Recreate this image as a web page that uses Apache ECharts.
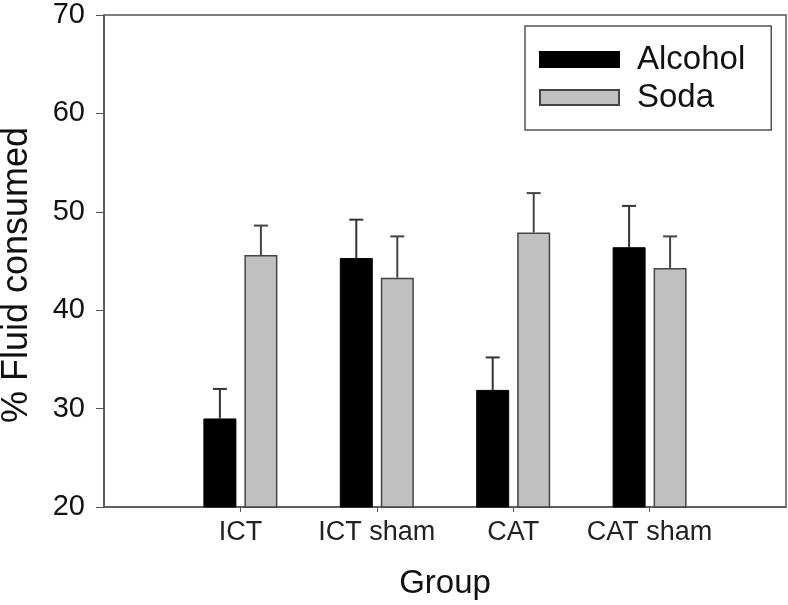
<!DOCTYPE html>
<html>
<head>
<meta charset="utf-8">
<script src="https://cdn.jsdelivr.net/npm/echarts@6/dist/echarts.min.js"></script>
<style>
  html, body { margin: 0; padding: 0; background: #fff; }
  #main { width: 788px; height: 605px; }
</style>
</head>
<body>
<div id="main"></div>
<script>
// groups and values
var groups = ['ICT', 'ICT sham', 'CAT', 'CAT sham'];
var alcohol = [29.0, 45.3, 31.9, 46.4];
var alcoholErr = [3.0, 3.9, 3.3, 4.2];
var soda = [45.6, 43.3, 47.9, 44.3];
var sodaErr = [3.0, 4.2, 4.0, 3.2];
var yTicks = [20, 30, 40, 50, 60, 70];

// axis has an empty slot at each end
var axisCats = [''].concat(groups, ['']);
function pad(arr) { return [null].concat(arr, [null]); }

var barW = 33, barGapPx = 8;
var FONT = 'Liberation Sans, Arial, sans-serif';

function errSeries(name, vals, errs, side, color) {
    var data = [];
    for (var i = 0; i < vals.length; i++) {
        data.push([i + 1, vals[i], vals[i] + errs[i]]);
    }
    return {
        name: name + ' err',
        type: 'custom',
        z: 1,
        silent: true,
        renderItem: function (params, api) {
            var base = api.coord([api.value(0), api.value(1)]);
            var top = api.coord([api.value(0), api.value(2)]);
            var x = base[0] + side * (barW + barGapPx) / 2;
            return {
                type: 'group',
                children: [
                    { type: 'line', shape: { x1: x, y1: base[1], x2: x, y2: top[1] },
                      style: { stroke: color, lineWidth: 2 } },
                    { type: 'line', shape: { x1: x - 7, y1: top[1], x2: x + 7, y2: top[1] },
                      style: { stroke: color, lineWidth: 2 } }
                ]
            };
        },
        data: data
    };
}

var myChart = echarts.init(document.getElementById('main'));
var option = {
    animation: false,
    textStyle: { fontFamily: FONT },
    grid: {
        left: 104, right: 2, top: 15, bottom: 98,
        outerBoundsMode: 'none',
        show: true, borderColor: '#555', borderWidth: 1.5, backgroundColor: 'transparent'
    },
    legend: {
        orient: 'vertical',
        left: 525, top: 26,
        padding: [17, 26, 16, 14],
        itemWidth: 79, itemHeight: 15, itemGap: 5,
        icon: 'rect',
        borderColor: '#555', borderWidth: 1.5,
        textStyle: { fontSize: 33, lineHeight: 33, color: '#111', padding: [0, 0, 0, 13] },
        data: ['Alcohol', 'Soda']
    },
    graphic: [{
        type: 'text',
        x: 17, y: 275,
        rotation: Math.PI / 2,
        style: {
            text: '% Fluid consumed',
            font: '36px ' + FONT,
            fill: '#111',
            align: 'center',
            verticalAlign: 'middle'
        }
    }],
    xAxis: {
        type: 'category',
        data: axisCats,
        boundaryGap: false,
        name: 'Group',
        nameLocation: 'middle',
        nameGap: 60,
        nameTextStyle: { fontSize: 33, color: '#111' },
        axisLine: { lineStyle: { color: '#555', width: 1.5 } },
        axisTick: {
            length: 5, lineStyle: { color: '#555' },
            interval: function (i) { return i > 0 && i < axisCats.length - 1; }
        },
        axisLabel: { fontSize: 27, color: '#222', margin: 12, interval: 0 },
        splitLine: { show: false }
    },
    yAxis: {
        type: 'value',
        min: yTicks[0], max: yTicks[yTicks.length - 1], interval: 10,
        axisLine: { show: true, lineStyle: { color: '#555', width: 1.5 } },
        axisTick: { show: true, length: 8, lineStyle: { color: '#555' } },
        axisLabel: { fontSize: 29, color: '#111', margin: 19 },
        splitLine: { show: false }
    },
    series: [
        {
            name: 'Alcohol', type: 'bar', z: 2,
            barWidth: barW, barGap: (barGapPx / barW * 100) + '%',
            itemStyle: { color: '#000', borderColor: '#000', borderWidth: 1 },
            data: pad(alcohol)
        },
        {
            name: 'Soda', type: 'bar', z: 2,
            barWidth: barW,
            itemStyle: { color: '#c0c0c0', borderColor: '#444', borderWidth: 1.5 },
            data: pad(soda)
        },
        errSeries('Alcohol', alcohol, alcoholErr, -1, '#333'),
        errSeries('Soda', soda, sodaErr, 1, '#444')
    ]
};
myChart.setOption(option);
</script>
</body>
</html>
